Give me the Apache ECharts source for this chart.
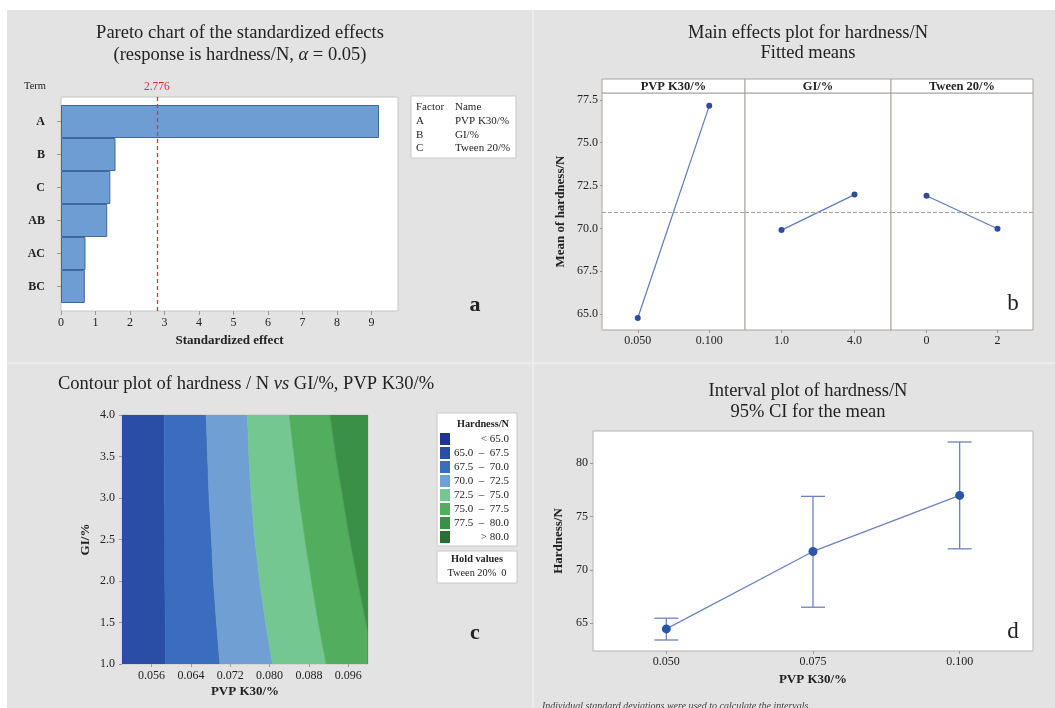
<!DOCTYPE html>
<html><head><meta charset="utf-8">
<script src="https://cdn.jsdelivr.net/npm/echarts@6/dist/echarts.min.js"></script>
<style>html,body{margin:0;padding:0;background:#fff}#c{width:1055px;height:708px}</style>
</head><body><div id="c"></div>
<script>
// ---------- Panel a: Pareto chart ----------
const paretoTerms = ['A', 'B', 'C', 'AB', 'AC', 'BC'];
const paretoEffects = [9.22, 1.58, 1.43, 1.34, 0.71, 0.69];
const paretoCrit = 2.776;
const paretoXMax = 9.77;
const factorCodes = ['A', 'B', 'C'];
const factorNames = ['PVP K30/%', 'GI/%', 'Tween 20/%'];

// ---------- Panel b: Main effects ----------
const meFactors = ['PVP K30/%', 'GI/%', 'Tween 20/%'];
const meLevels = [['0.050', '0.100'], ['1.0', '4.0'], ['0', '2']];
const meMeans = [[64.77, 77.15], [69.90, 71.97], [71.90, 69.98]];
const meGrand = 70.96;
const meYTicks = [65, 67.5, 70, 72.5, 75, 77.5];
const meYRange = [64.07, 77.9];

// ---------- Panel c: Contour ----------
const ctXRange = [0.05, 0.1];
const ctYRange = [1, 4];
const ctXTicks = [0.056, 0.064, 0.072, 0.080, 0.088, 0.096];
const ctGI = [1, 1.5, 2, 2.5, 3, 3.5, 4];
const ct675 = [0.0588, 0.0588, 0.0587, 0.0587, 0.0586, 0.0586, 0.0586];
const ct700 = [0.0699, 0.0692, 0.0686, 0.0682, 0.0677, 0.0674, 0.0671];
const ct725 = [0.0806, 0.0792, 0.0780, 0.0770, 0.0763, 0.0758, 0.0755];
const ct750 = [0.0915, 0.0899, 0.0885, 0.0872, 0.0860, 0.0850, 0.0840];
const ct775GI = [1, 1.39, 1.5, 2, 2.5, 3, 3.5, 4];
const ct775 = [0.1, 0.1, 0.0996, 0.0979, 0.0963, 0.0949, 0.0935, 0.0923];
const ctLegendLabels = ['< 65.0', '65.0  \u2013  67.5', '67.5  \u2013  70.0', '70.0  \u2013  72.5',
  '72.5  \u2013  75.0', '75.0  \u2013  77.5', '77.5  \u2013  80.0', '> 80.0'];
const ctLegendColors = ['#1f3591', '#2a4ea6', '#3a6dbd', '#70a0d3', '#74c791', '#52ad5f', '#3a9146', '#2b6e36'];
const ctBandIndex = [1, 2, 3, 4, 5, 6]; // legend classes that appear in the plot

// ---------- Panel d: Interval plot ----------
const ivLevels = ['0.050', '0.075', '0.100'];
const ivMeans = [64.47, 71.72, 76.97];
const ivLow = [63.43, 66.50, 71.97];
const ivHigh = [65.47, 76.88, 81.97];
const ivYTicks = [65, 70, 75, 80];
const ivYRange = [62.4, 83.0];

const SERIF = '"Liberation Serif","DejaVu Serif",serif';
const TXT = '#222';
const RED = '#d63a30';

function bnd(gi, pvp) { return { gi: gi, pvp: pvp }; }
const ctBounds = [
  bnd(ctYRange, [ctXRange[0], ctXRange[0]]),
  bnd(ctGI, ct675), bnd(ctGI, ct700), bnd(ctGI, ct725), bnd(ctGI, ct750),
  bnd(ct775GI, ct775),
  bnd(ctYRange, [ctXRange[1], ctXRange[1]])
];

const chart = echarts.init(document.getElementById('c'), null, { renderer: 'canvas' });

const lbl = (extra) => Object.assign({ fontFamily: SERIF, fontSize: 12, color: TXT }, extra || {});
const nameStyle = { fontFamily: SERIF, fontSize: 13, fontWeight: 'bold', color: TXT };

const grids = [
  { left: 61, top: 97, width: 337, height: 214, show: true, backgroundColor: '#fff', borderColor: '#c4c4c4', borderWidth: 1 },
  { left: 61, top: 105, width: 337, height: 198 },
  { left: 602, top: 93, width: 143, height: 237, show: true, backgroundColor: '#fff', borderColor: '#a8a29c', borderWidth: 1 },
  { left: 745, top: 93, width: 146, height: 237, show: true, backgroundColor: '#fff', borderColor: '#a8a29c', borderWidth: 1 },
  { left: 891, top: 93, width: 142, height: 237, show: true, backgroundColor: '#fff', borderColor: '#a8a29c', borderWidth: 1 },
  { left: 122, top: 415, width: 246, height: 249, show: true, backgroundColor: '#fff', borderColor: '#c8c8c8', borderWidth: 1 },
  { left: 593, top: 431, width: 440, height: 220, show: true, backgroundColor: '#fff', borderColor: '#b4b4b4', borderWidth: 1 }
];

const xAxes = [
  { gridIndex: 0, type: 'value', min: 0, max: paretoXMax, interval: 1,
    axisLine: { show: false }, splitLine: { show: false },
    axisTick: { show: true, length: 4, lineStyle: { color: '#999' } },
    axisLabel: lbl({ margin: 6, showMaxLabel: false }),
    name: 'Standardized effect', nameLocation: 'middle', nameGap: 23, nameTextStyle: nameStyle },
  { gridIndex: 1, type: 'value', min: 0, max: paretoXMax, show: false }
];
const yAxes = [
  { gridIndex: 0, type: 'value', min: 0, max: 1, show: false },
  { gridIndex: 1, type: 'category', data: paretoTerms, inverse: true,
    axisLine: { show: false },
    axisTick: { show: true, alignWithLabel: true, length: 4, lineStyle: { color: '#999' } },
    axisLabel: lbl({ fontWeight: 'bold', margin: 16 }) }
];
for (let i = 0; i < 3; i++) {
  xAxes.push({ gridIndex: 2 + i, type: 'category', data: meLevels[i], boundaryGap: true,
    axisLine: { show: false },
    axisTick: { show: true, alignWithLabel: true, length: 3, lineStyle: { color: '#999' } },
    axisLabel: lbl({ margin: 5 }) });
  yAxes.push({ gridIndex: 2 + i, type: 'value', min: meYRange[0], max: meYRange[1],
    axisLine: { show: false }, splitLine: { show: false },
    axisTick: { show: i === 0, length: 2, customValues: meYTicks, lineStyle: { color: '#999' } },
    axisLabel: lbl({ show: i === 0, margin: 4, customValues: meYTicks, formatter: v => Number(v).toFixed(1) }),
    name: i === 0 ? 'Mean of hardness/N' : '', nameLocation: 'middle', nameGap: 35, nameTextStyle: nameStyle });
}
xAxes.push({ gridIndex: 5, type: 'value', min: ctXRange[0], max: ctXRange[1],
  axisLine: { show: false }, splitLine: { show: false },
  axisTick: { show: true, length: 3, customValues: ctXTicks, lineStyle: { color: '#999' } },
  axisLabel: lbl({ margin: 6, customValues: ctXTicks, formatter: v => Number(v).toFixed(3) }),
  name: 'PVP K30/%', nameLocation: 'middle', nameGap: 21, nameTextStyle: nameStyle });
yAxes.push({ gridIndex: 5, type: 'value', min: ctYRange[0], max: ctYRange[1], interval: 0.5,
  axisLine: { show: false }, splitLine: { show: false },
  axisTick: { show: true, length: 3, lineStyle: { color: '#999' } },
  axisLabel: lbl({ margin: 7, formatter: v => Number(v).toFixed(1) }),
  name: 'GI/%', nameLocation: 'middle', nameGap: 30, nameTextStyle: nameStyle });
xAxes.push({ gridIndex: 6, type: 'category', data: ivLevels, boundaryGap: true,
  axisLine: { show: false },
  axisTick: { show: true, alignWithLabel: true, length: 3, lineStyle: { color: '#999' } },
  axisLabel: lbl({ margin: 5 }),
  name: 'PVP K30/%', nameLocation: 'middle', nameGap: 22, nameTextStyle: nameStyle });
yAxes.push({ gridIndex: 6, type: 'value', min: ivYRange[0], max: ivYRange[1],
  axisLine: { show: false }, splitLine: { show: false },
  axisTick: { show: true, length: 3, customValues: ivYTicks, lineStyle: { color: '#999' } },
  axisLabel: lbl({ margin: 5, customValues: ivYTicks }),
  name: 'Hardness/N', nameLocation: 'middle', nameGap: 28, nameTextStyle: nameStyle });

const series = [
  { type: 'bar', xAxisIndex: 1, yAxisIndex: 1, data: paretoEffects, barCategoryGap: '0%',
    itemStyle: { color: '#6d9dd2', borderColor: '#41689e', borderWidth: 1 }, silent: true },
  { type: 'scatter', xAxisIndex: 0, yAxisIndex: 0, data: [], silent: true, itemStyle: { color: RED },
    markLine: { silent: true, symbol: ['none', 'none'], animation: false,
      lineStyle: { color: RED, type: [4, 3], width: 1.3 },
      label: { show: true, position: 'end', formatter: String(paretoCrit), color: '#c33', fontFamily: SERIF, fontSize: 11.5, distance: 4 },
      data: [{ xAxis: paretoCrit, lineStyle: { color: RED, type: [4, 3], width: 1.3 } }] } }
];
for (let i = 0; i < 3; i++) {
  series.push({ type: 'line', xAxisIndex: 2 + i, yAxisIndex: 2 + i, data: meMeans[i],
    symbol: 'circle', symbolSize: 6, itemStyle: { color: '#2d4d9b' },
    lineStyle: { color: '#5d7bbb', width: 1.2 }, silent: true,
    markLine: { silent: true, symbol: ['none', 'none'], label: { show: false },
      lineStyle: { color: '#a0a0a0', type: 'dashed', width: 1 }, data: [{ yAxis: meGrand }] } });
}
series.push({ type: 'custom', xAxisIndex: 5, yAxisIndex: 5, silent: true, clip: true,
  data: ctBandIndex.map(k => ({ name: ctLegendLabels[k], value: [ctXRange[0], ctYRange[0]] })),
  renderItem: function (params, api) {
    const k = params.dataIndex;
    const L = ctBounds[k], R = ctBounds[k + 1];
    const pts = [];
    for (let i = 0; i < L.gi.length; i++) pts.push(api.coord([L.pvp[i], L.gi[i]]));
    for (let i = R.gi.length - 1; i >= 0; i--) pts.push(api.coord([R.pvp[i], R.gi[i]]));
    const col = ctLegendColors[ctBandIndex[k]];
    return { type: 'polygon', shape: { points: pts }, style: { fill: col, stroke: col, lineWidth: 0.6 } };
  } });
series.push({ type: 'custom', xAxisIndex: 6, yAxisIndex: 6, silent: true,
  data: ivLevels.map((l, i) => [i, ivLow[i], ivHigh[i]]),
  encode: { x: 0, y: [1, 2] },
  renderItem: function (params, api) {
    const x = api.value(0);
    const lo = api.coord([x, api.value(1)]);
    const hi = api.coord([x, api.value(2)]);
    const w = 12, st = { stroke: '#6a84bf', lineWidth: 1.3 };
    return { type: 'group', children: [
      { type: 'line', shape: { x1: lo[0], y1: lo[1], x2: hi[0], y2: hi[1] }, style: st },
      { type: 'line', shape: { x1: lo[0] - w, y1: lo[1], x2: lo[0] + w, y2: lo[1] }, style: st },
      { type: 'line', shape: { x1: hi[0] - w, y1: hi[1], x2: hi[0] + w, y2: hi[1] }, style: st }
    ] };
  } });
series.push({ type: 'line', xAxisIndex: 6, yAxisIndex: 6, data: ivMeans, symbol: 'circle', symbolSize: 9,
  itemStyle: { color: '#2a58a8' }, lineStyle: { color: '#6a84bf', width: 1.3 }, silent: true, z: 3 });

// ---------- decorations (text, legends, panel background) ----------
function T(text, x, y, o) {
  o = o || {};
  return { type: 'text', silent: true, z: 10, style: Object.assign({ text: text, x: x, y: y,
    fontFamily: SERIF, fontSize: 11, fill: TXT, textAlign: 'left', verticalAlign: 'middle' }, o) };
}
function R(x, y, w, h, fill, stroke) {
  return { type: 'rect', silent: true, z: 9, shape: { x: x, y: y, width: w, height: h },
    style: { fill: fill, stroke: stroke || null, lineWidth: 1 } };
}
const g = [];
g.push(R(0, 0, 1055, 10, '#fff'));
g.push(R(0, 0, 7, 708, '#fff'));
g.push(R(532, 10, 2, 698, '#ececec'));
g.push(R(7, 362, 1048, 2, '#ececec'));
// titles
const titleFs = 18.5;
g.push(T('Pareto chart of the standardized effects', 240, 33, { fontSize: titleFs, textAlign: 'center' }));
g.push(T('(response is hardness/N, {i|\u03b1} = 0.05)', 240, 55, { fontSize: titleFs, textAlign: 'center',
  rich: { i: { fontStyle: 'italic', fontFamily: SERIF, fontSize: titleFs, fill: TXT } } }));
g.push(T('Main effects plot for hardness/N', 808, 33, { fontSize: titleFs, textAlign: 'center' }));
g.push(T('Fitted means', 808, 53, { fontSize: titleFs, textAlign: 'center' }));
g.push(T('Contour plot of hardness / N {i|vs} GI/%, PVP K30/%', 246, 384, { fontSize: 18.5, textAlign: 'center',
  rich: { i: { fontStyle: 'italic', fontFamily: SERIF, fontSize: 18.5, fill: TXT } } }));
g.push(T('Interval plot of hardness/N', 808, 391, { fontSize: titleFs, textAlign: 'center' }));
g.push(T('95% CI for the mean', 808, 412, { fontSize: titleFs, textAlign: 'center' }));
// panel letters
g.push(T('a', 475, 305, { fontSize: 22, textAlign: 'center', fontWeight: 'bold' }));
g.push(T('b', 1013, 304, { fontSize: 23, textAlign: 'center' }));
g.push(T('c', 475, 633, { fontSize: 22, textAlign: 'center', fontWeight: 'bold' }));
g.push(T('d', 1013, 632, { fontSize: 23, textAlign: 'center' }));
// pareto extras
g.push(T('Term', 35, 86, { fontSize: 10.5, textAlign: 'center' }));
g.push(R(411, 96, 105, 62, '#fff', '#c8c8c8'));
g.push(T('Factor', 416, 107, { fontSize: 11 }));
g.push(T('Name', 455, 107, { fontSize: 11 }));
factorCodes.forEach((c, i) => {
  g.push(T(c, 416, 121 + i * 13.8, { fontSize: 11 }));
  g.push(T(factorNames[i], 455, 121 + i * 13.8, { fontSize: 11 }));
});
// main effects strip headers
const stripX = [602, 745, 891], stripW = [143, 146, 142];
meFactors.forEach((f, i) => {
  g.push(R(stripX[i], 79, stripW[i], 14, '#fff', '#a8a29c'));
  g.push(T(f, stripX[i] + stripW[i] / 2, 86.5, { fontSize: 12.5, fontWeight: 'bold', textAlign: 'center' }));
});
// contour legend
g.push(R(437, 413, 80, 133, '#fff', '#c8c8c8'));
g.push(T('Hardness/N', 509, 424, { fontSize: 10.3, fontWeight: 'bold', textAlign: 'right' }));
ctLegendLabels.forEach((l, i) => {
  const y = 439 + i * 14;
  g.push(R(440, y - 6, 10, 12, ctLegendColors[i]));
  g.push(T(l, 509, y, { fontSize: 11, textAlign: 'right' }));
});
g.push(R(437, 551, 80, 32, '#fff', '#c8c8c8'));
g.push(T('Hold values', 477, 559, { fontSize: 10.3, fontWeight: 'bold', textAlign: 'center' }));
g.push(T('Tween 20%  0', 477, 573, { fontSize: 10.3, textAlign: 'center' }));
// footnote
g.push(T('Individual standard deviations were used to calculate the intervals.', 542, 706,
  { fontSize: 10, fontStyle: 'italic', fill: '#444' }));

chart.setOption({
  animation: false,
  backgroundColor: '#e3e3e3',
  grid: grids,
  xAxis: xAxes,
  yAxis: yAxes,
  series: series,
  graphic: { elements: g }
});
</script>
</body></html>
